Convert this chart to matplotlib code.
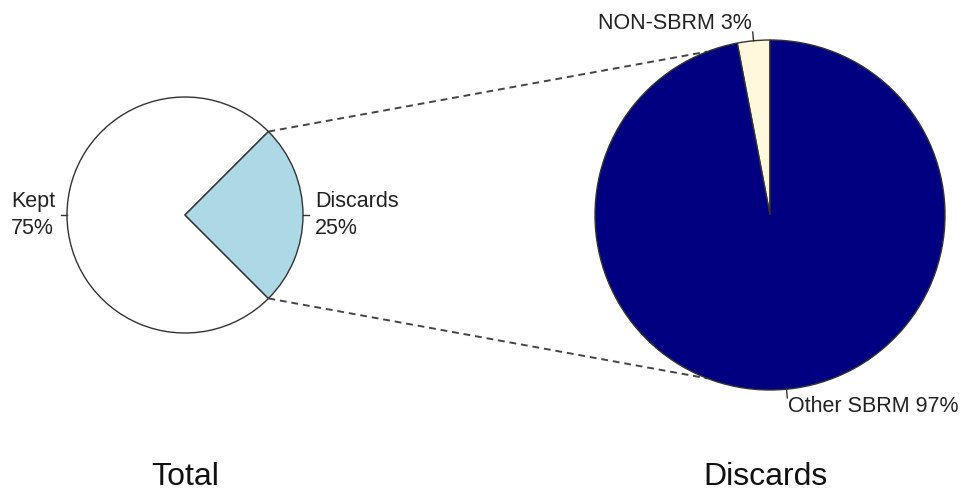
import numpy as np
import matplotlib
matplotlib.use("Agg")
import matplotlib.pyplot as plt

plt.rcParams['font.family'] = ['Liberation Sans', 'DejaVu Sans']

# data
total_labels = ['Kept', 'Discards']
total_values = [75, 25]
total_colors = ['white', '#ADD8E6']

disc_labels = ['NON-SBRM', 'Other SBRM']
disc_values = [3, 97]
disc_colors = ['#FFF8DC', '#000080']

W, H = 965, 491
fig = plt.figure(figsize=(W / 100, H / 100), dpi=100)
ax = fig.add_axes([0, 0, 1, 1])

# pie geometry (pixel units, y up)
c1, r1, a1 = (185, H - 215), 118, 45
c2, r2, a2 = (770, H - 215), 175, 90


def draw_pie(vals, labels, colors, center, radius, start, fmt):
    wedges, _ = ax.pie(vals, colors=colors, center=center, radius=radius,
                       startangle=start, counterclock=True, frame=True,
                       wedgeprops=dict(edgecolor='#333333', linewidth=1.0))
    tot = float(sum(vals))
    ang = start
    for v, lab in zip(vals, labels):
        mid = np.deg2rad(ang + 360 * v / tot / 2)
        ang += 360 * v / tot
        cx, cy = np.cos(mid), np.sin(mid)
        ax.plot([center[0] + radius * cx, center[0] + 1.05 * radius * cx],
                [center[1] + radius * cy, center[1] + 1.05 * radius * cy],
                color='#333333', lw=1.0, zorder=3)
        ax.text(center[0] + 1.1 * radius * cx, center[1] + 1.1 * radius * cy,
                fmt(lab, v), ha='left' if cx > 0 else 'right', va='center',
                multialignment='left', fontsize=15.5, color='#222222',
                linespacing=1.35)
    return wedges


draw_pie(total_values, total_labels, total_colors, c1, r1, a1,
         lambda l, v: '%s\n%d%%' % (l, v))

# connector lines: discards wedge edges -> right pie
for s in (1, -1):
    p1 = np.deg2rad(s * 45)
    p2 = np.deg2rad(s * 111)
    ax.plot([c1[0] + r1 * np.cos(p1), c2[0] + r2 * np.cos(p2)],
            [c1[1] + r1 * np.sin(p1), c2[1] + r2 * np.sin(p2)],
            color='#444444', lw=1.4, ls=(0, (3.5, 2.5)), zorder=0.5)

draw_pie(disc_values, disc_labels, disc_colors, c2, r2, a2,
         lambda l, v: '%s %d%%' % (l, v))

ax.text(c1[0], H - 477, 'Total', ha='center', va='center', fontsize=23,
        color='#111111')
ax.text(c2[0] - 4, H - 477, 'Discards', ha='center', va='center',
        fontsize=23, color='#111111')

ax.set_xlim(0, W)
ax.set_ylim(0, H)
ax.set_aspect('auto')
ax.axis('off')

fig.savefig('out.png', dpi=100, facecolor='white')
